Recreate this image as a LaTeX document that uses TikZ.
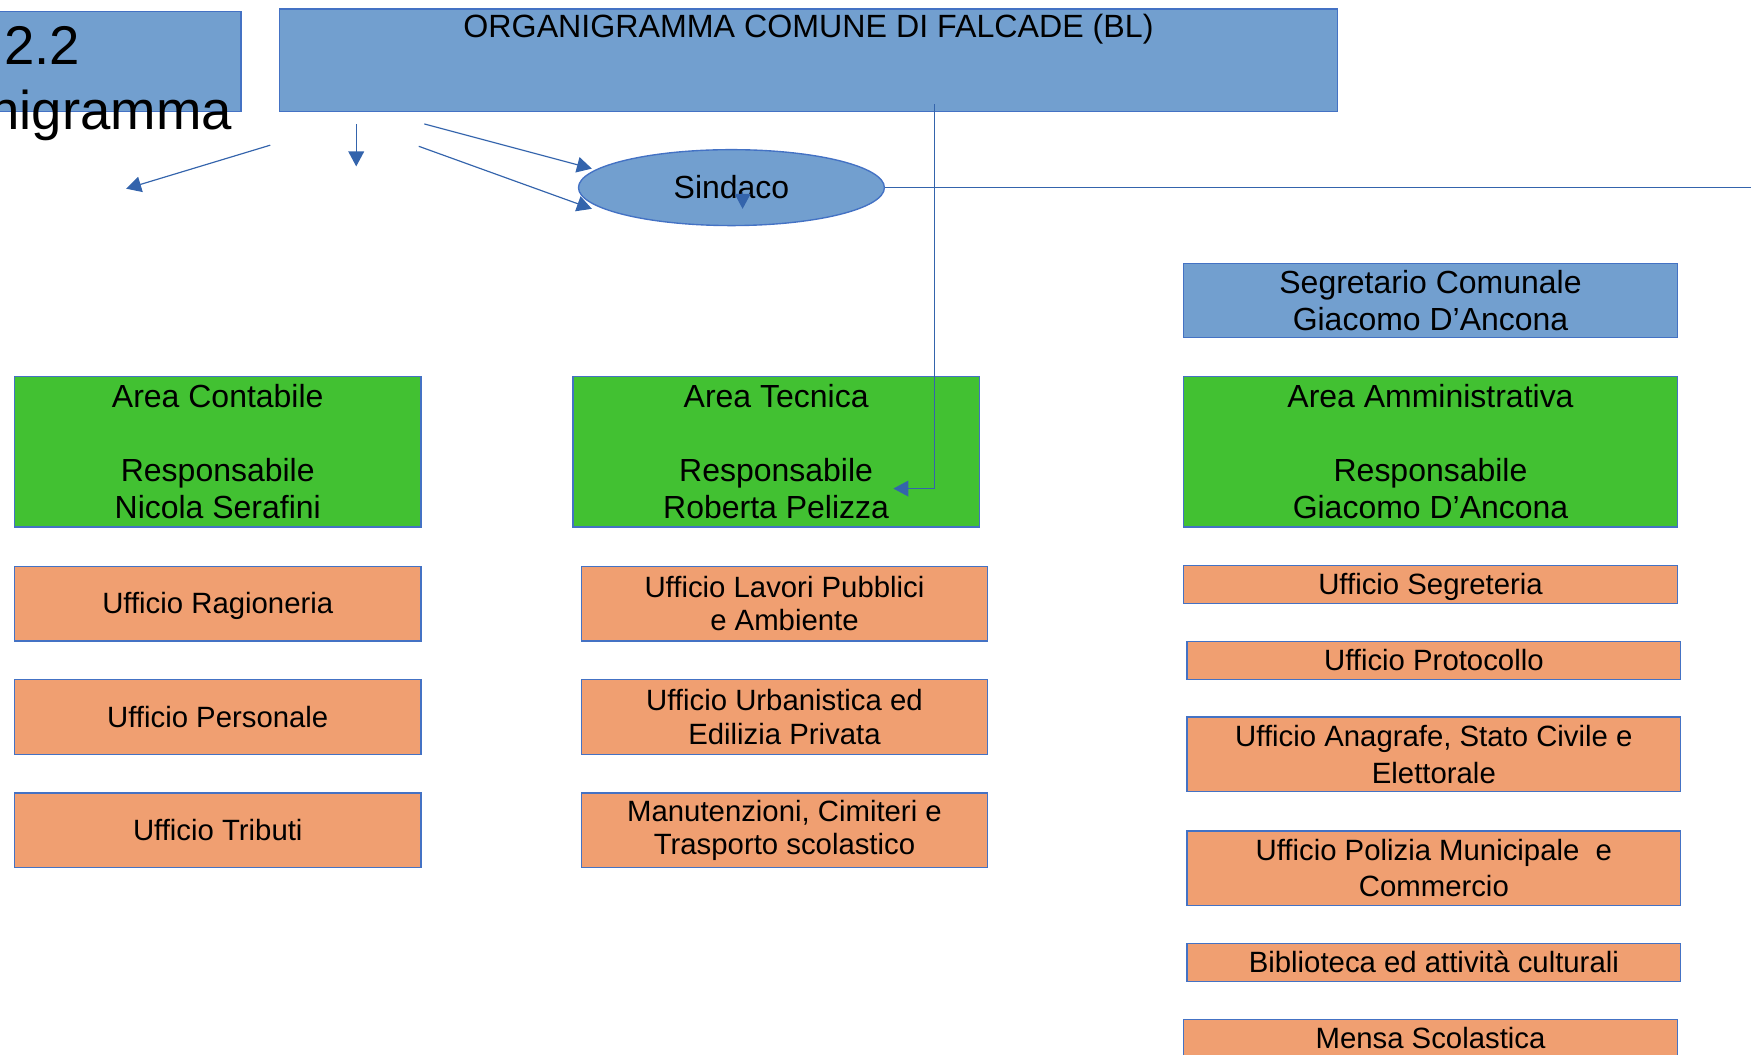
\documentclass[tikz,border=0pt]{standalone}
\usepackage{fontspec}
\setmainfont{Liberation Sans}
\usetikzlibrary{arrows.meta,positioning,shapes.geometric}
\definecolor{boxblue}{RGB}{114,159,207}
\definecolor{edgeblue}{RGB}{68,114,196}
\definecolor{linkblue}{RGB}{52,100,172}
\definecolor{areagreen}{RGB}{66,193,50}
\definecolor{officeorange}{RGB}{240,159,113}
\tikzset{
	>={Triangle[length=7.6pt,width=8pt]}, % filled heads
	link/.style={->, draw=linkblue, line width=0.6pt},
	plain/.style={draw=linkblue, line width=0.6pt},
	bluebox/.style={draw=edgeblue, fill=boxblue, line width=0.7pt, inner sep=0pt, align=center, font=\fontsize{16.3}{18.8}\selectfont},
	area/.style={draw=edgeblue, fill=areagreen, line width=0.7pt, minimum height=2.7cm, inner sep=0pt, align=center, font=\fontsize{16.3}{18.8}\selectfont},
	office/.style={draw=edgeblue, fill=officeorange, line width=0.7pt, minimum height=1.34cm, inner sep=0pt, align=center, font=\fontsize{14.95}{17}\selectfont},
	slim/.style={office, minimum height=0.68cm},
	oneline/.style={text height=10.3pt, text depth=0pt}, % centre single lines like the slides do
}
\begin{document}
\begin{tikzpicture}[x=0.02cm, y=-0.02cm, node distance=2.03cm, on grid]
  \useasboundingbox (0,0) rectangle (1568,944);
  \clip (0,0) rectangle (1568,944);

  % heading
  \node[bluebox, minimum width=4.72cm, minimum height=1.79cm] (sec) at (98,55.2) {};
  \node[anchor=base west, inner sep=0pt, font=\fontsize{27.8}{32}\selectfont] (secnum) at (3.4,58) {2.2};
  \node[anchor=base east, inner sep=0pt, font=\fontsize{27.8}{32}\selectfont] (secname) at (208,116) {nigramma};
  \node[bluebox, minimum width=18.96cm, minimum height=1.84cm,
        label={[anchor=north, inner sep=3pt, font=\fontsize{16.4}{19}\selectfont]north:ORGANIGRAMMA COMUNE DI FALCADE (BL)}] (title) at (724,54) {};

  \node[bluebox, ellipse, oneline, text height=11.2pt, minimum width=5.48cm, minimum height=1.36cm] (sindaco) at (655,168) {Sindaco};
  \node[bluebox, minimum width=8.84cm, minimum height=1.32cm] (segr) at (1281,269) {Segretario Comunale\\Giacomo D’Ancona};

  % areas
  \node[area, minimum width=7.28cm] (cont) at (195,404.5) {Area Contabile\\[18.8pt]Responsabile\\Nicola Serafini};
  \node[area, minimum width=7.28cm] (tecn) at (695,404.5) {Area Tecnica\\[18.8pt]Responsabile\\Roberta Pelizza};
  \node[area, minimum width=8.84cm] (amm) at (1281,404.5) {Area Amministrativa\\[18.8pt]Responsabile\\Giacomo D’Ancona};

  % offices
  \node[office, oneline, minimum width=7.28cm] (rag) at (195,540.5) {Ufficio Ragioneria};
  \node[office, oneline, minimum width=7.28cm, below=of rag] (pers) {Ufficio Personale};
  \node[office, oneline, minimum width=7.28cm, below=of pers] (trib) {Ufficio Tributi};

  \node[office, minimum width=7.28cm] (lav) at (702.5,540.5) {Ufficio Lavori Pubblici\\e Ambiente};
  \node[office, minimum width=7.28cm, below=of lav] (urb) {Ufficio Urbanistica ed\\Edilizia Privata};
  \node[office, minimum width=7.28cm, below=of urb] (man) {Manutenzioni, Cimiteri e\\Trasporto scolastico};

  \node[slim, oneline, minimum width=8.84cm] (segrt) at (1281,523.5) {Ufficio Segreteria};
  \node[slim, oneline, minimum width=8.84cm] (prot) at (1284,591.5) {Ufficio Protocollo};
  \node[office, minimum width=8.84cm, font=\fontsize{14.95}{18.6}\selectfont] (anag) at (1284,675.5) {Ufficio Anagrafe, Stato Civile e\\Elettorale};
  \node[office, minimum width=8.84cm, font=\fontsize{14.95}{18.4}\selectfont] (pol) at (1284,777.5) {Ufficio Polizia Municipale~ e\\Commercio};
  \node[slim, oneline, minimum width=8.84cm] (bibl) at (1284,862) {Biblioteca ed attività culturali};
  \node[slim, oneline, minimum width=8.84cm] (mensa) at (1281,930) {Mensa Scolastica};

  % loose ends
  \coordinate (a1) at (242,130);  \coordinate (b1) at (113,169);
  \coordinate (a2) at (319,111);  \coordinate (b2) at (319,149);
  \coordinate (a3) at (380,111);  \coordinate (b3) at (530,151);
  \coordinate (a4) at (375,131);  \coordinate (b4) at (530,187);
  \coordinate (a5) at (665,172);  \coordinate (b5) at (665,187);
  \coordinate (tap) at (837,93);
  \coordinate (hook) at (800,437.5);
  \coordinate (far) at (1600,168);

  \draw[link] (a1) -- (b1);
  \draw[link] (a2) -- (b2);
  \draw[link] (a3) -- (b3);
  \draw[link] (a4) -- (b4);
  \draw[link] (a5) -- (b5);
  \draw[plain] (sindaco.east) -- (far);
  \draw[link] (tap) |- (hook);
\end{tikzpicture}
\end{document}
